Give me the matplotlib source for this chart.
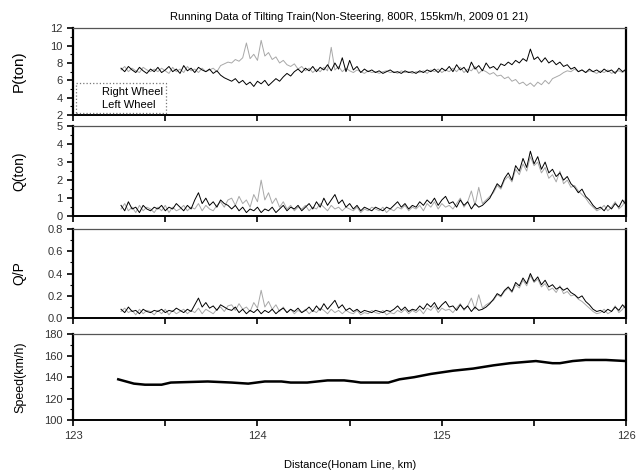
import matplotlib.pyplot as plt
import numpy as np
from matplotlib.ticker import MultipleLocator, FuncFormatter

plt.rcParams['font.family'] = ['Liberation Sans', 'DejaVu Sans']

# distance samples (km) for the wheel-load records
dist = np.round(np.arange(123.26, 126.001, 0.02), 3)

p_right = [
    7.4, 7.0, 7.6, 7.2, 6.9, 7.5, 7.1, 6.8, 7.3, 7.0,
    7.5, 6.9, 7.2, 7.6, 7.0, 7.3, 6.8, 7.7, 7.1, 7.4,
    6.9, 7.5, 7.2, 7.0, 7.3, 6.8, 7.1, 6.6, 6.3, 6.1,
    5.9, 6.2, 5.7, 6.0, 5.5, 5.8, 5.3, 5.9, 5.6, 6.0,
    5.4, 5.8, 6.2, 5.9, 6.4, 6.8, 6.5, 7.0, 7.3, 6.9,
    7.4, 7.1, 7.6, 7.0, 7.5, 7.2, 7.8, 7.1, 8.0, 7.3,
    8.6, 7.0, 8.3, 7.2, 7.6, 6.9, 7.3, 7.0, 7.2, 6.9,
    7.1, 6.8, 7.0, 7.2, 6.9, 7.0, 6.8, 7.1, 6.9, 7.0,
    6.8, 7.1, 6.9, 7.2, 7.0, 7.3, 6.9, 7.4, 7.1, 7.6,
    7.0, 7.8, 7.2, 7.5, 6.9, 8.1, 7.3, 7.7, 7.1, 8.0,
    7.4, 7.6, 7.2, 7.9, 7.7, 8.1, 7.8, 8.3, 8.0, 8.5,
    8.2, 9.6, 8.4, 8.7, 8.1, 8.6, 8.0, 8.3, 7.8, 8.1,
    7.6, 7.8, 7.3, 7.5, 7.0, 7.2, 6.9, 7.3, 7.0, 7.2,
    6.9, 7.3, 7.0, 7.2, 6.8, 7.4, 7.0, 7.3,
]
p_left = [
    7.2, 7.6, 7.0, 7.4, 7.1, 6.9, 7.5, 7.2, 7.0, 7.3,
    7.0, 7.4, 7.1, 6.8, 7.5, 7.0, 7.3, 6.9, 7.6, 7.1,
    7.3, 6.9, 7.4, 7.0, 7.2, 7.4, 7.0, 7.7, 7.9, 8.1,
    8.0, 8.4, 8.2, 8.6, 10.3, 8.5, 9.0, 8.3, 10.6, 8.8,
    9.2, 8.4, 8.7, 8.0, 8.3, 7.8, 7.6, 7.9, 7.3, 7.6,
    7.1, 7.4, 6.9, 7.3, 7.0, 7.5, 7.1, 9.8, 7.2, 7.6,
    7.0, 7.4, 7.1, 6.9, 7.2, 7.0, 6.8, 7.1, 6.9, 7.0,
    6.8, 7.0, 7.1, 6.9, 7.0, 6.8, 7.1, 6.9, 7.0, 6.8,
    7.0, 6.9, 7.1, 6.8, 7.2, 7.0, 7.3, 6.9, 7.2, 7.0,
    7.4, 7.0, 7.5, 6.9, 7.3, 7.1, 7.6, 6.8, 7.2, 7.0,
    6.7, 6.9, 6.5, 6.6, 6.2, 6.4, 5.9, 6.1, 5.6, 5.8,
    5.4, 5.7, 5.3, 5.8, 5.5, 6.0, 5.6, 6.2, 6.4, 6.6,
    6.9, 7.1, 7.0, 7.3, 7.0, 7.2, 6.9, 7.1, 7.0, 6.8,
    7.1, 6.9, 7.2, 6.8, 7.0, 7.1, 6.9, 7.2,
]
q_right = [
    0.6, 0.3, 0.8, 0.4, 0.5, 0.2, 0.6, 0.4, 0.3, 0.5,
    0.4, 0.6, 0.3, 0.5, 0.4, 0.7, 0.5, 0.3, 0.6, 0.4,
    0.9, 1.3, 0.7, 1.0, 0.6, 0.8, 0.5, 0.9, 0.7, 0.6,
    0.4, 0.6, 0.3, 0.5, 0.2, 0.4, 0.3, 0.5, 0.2, 0.4,
    0.3, 0.5, 0.2, 0.4, 0.6, 0.3, 0.5, 0.4, 0.6, 0.3,
    0.5, 0.7, 0.4, 0.8, 0.5, 1.0, 0.6, 0.9, 1.2, 0.7,
    0.9, 0.5, 0.7, 0.4, 0.6, 0.3, 0.5, 0.4, 0.3, 0.5,
    0.4, 0.3, 0.5, 0.4, 0.6, 0.8, 0.5, 0.7, 0.4, 0.6,
    0.5, 0.8, 0.6, 0.9, 0.7, 1.0, 0.6, 0.9, 1.1, 0.7,
    0.8, 0.5, 0.9, 0.6, 0.8, 0.4, 0.7, 0.5, 0.6, 0.8,
    1.0, 1.4, 1.8, 1.6, 2.1, 2.4, 2.0, 2.8, 2.5, 3.2,
    2.7, 3.6, 2.9, 3.3, 2.6, 3.0, 2.4, 2.6, 2.2, 2.4,
    2.0, 2.2, 1.8, 1.6, 1.3, 1.5, 1.1, 0.9, 0.6, 0.4,
    0.5, 0.3, 0.6, 0.4, 0.7, 0.5, 0.9, 0.6,
]
q_left = [
    0.4, 0.7, 0.3, 0.5, 0.2, 0.6, 0.3, 0.5, 0.4, 0.2,
    0.5, 0.3, 0.6, 0.2, 0.5, 0.3, 0.4, 0.6, 0.3, 0.5,
    0.4, 0.7, 0.3, 0.6, 0.4, 0.3, 0.6, 0.8, 0.5, 0.9,
    1.0, 0.6, 1.1, 0.7, 0.9, 0.5, 1.2, 0.8, 2.0, 0.9,
    1.3, 0.7, 1.0, 0.5, 0.8, 0.4, 0.6, 0.3, 0.5, 0.4,
    0.6, 0.3, 0.5, 0.4, 0.7, 0.5, 0.3, 0.6, 0.4, 0.5,
    0.3, 0.5, 0.4, 0.3, 0.5, 0.2, 0.4, 0.3, 0.5, 0.4,
    0.3, 0.5, 0.2, 0.4, 0.3, 0.5, 0.4, 0.6, 0.3, 0.5,
    0.4, 0.6, 0.3, 0.7, 0.5, 0.8, 0.4, 0.7, 0.5, 0.6,
    0.4, 0.7, 1.0, 0.5, 0.8, 1.4, 0.6, 1.6, 0.7, 0.9,
    1.1, 1.3, 1.7, 1.5, 2.0, 2.2, 1.9, 2.6, 2.3, 2.9,
    2.5, 3.3, 2.8, 3.0, 2.4, 2.7, 2.1, 2.3, 1.9, 2.5,
    1.8, 2.0, 1.6, 1.7, 1.4, 1.2, 1.0, 0.7, 0.5, 0.3,
    0.4, 0.6, 0.3, 0.5, 0.8, 0.4, 0.6, 1.0,
]
qp_right = [
    0.08, 0.05, 0.10, 0.06, 0.07, 0.04, 0.08, 0.06, 0.05, 0.07,
    0.06, 0.08, 0.05, 0.07, 0.06, 0.09, 0.07, 0.05, 0.08, 0.06,
    0.12, 0.18, 0.10, 0.14, 0.09, 0.11, 0.07, 0.12, 0.10, 0.08,
    0.07, 0.10, 0.05, 0.08, 0.04, 0.07, 0.05, 0.08, 0.04, 0.07,
    0.05, 0.08, 0.04, 0.07, 0.09, 0.05, 0.08, 0.06, 0.09, 0.05,
    0.07, 0.10, 0.06, 0.11, 0.07, 0.13, 0.08, 0.12, 0.16, 0.09,
    0.12, 0.07, 0.09, 0.06, 0.08, 0.05, 0.07, 0.06, 0.05, 0.07,
    0.06, 0.05, 0.07, 0.06, 0.08, 0.11, 0.07, 0.10, 0.06, 0.08,
    0.07, 0.11, 0.08, 0.13, 0.10, 0.14, 0.08, 0.12, 0.15, 0.10,
    0.11, 0.07, 0.12, 0.08, 0.11, 0.06, 0.10, 0.07, 0.08, 0.10,
    0.13, 0.17, 0.22, 0.20, 0.25, 0.28, 0.24, 0.32, 0.29, 0.36,
    0.31, 0.40, 0.33, 0.37, 0.30, 0.34, 0.28, 0.30, 0.26, 0.28,
    0.25, 0.27, 0.23, 0.21, 0.18, 0.20, 0.15, 0.12, 0.08, 0.06,
    0.07, 0.05, 0.08, 0.06, 0.10, 0.07, 0.12, 0.08,
]
qp_left = [
    0.06, 0.09, 0.05, 0.07, 0.03, 0.08, 0.04, 0.07, 0.06, 0.03,
    0.07, 0.04, 0.08, 0.03, 0.07, 0.04, 0.06, 0.08, 0.04, 0.07,
    0.05, 0.09, 0.04, 0.08, 0.06, 0.04, 0.08, 0.10, 0.06, 0.11,
    0.12, 0.07, 0.13, 0.08, 0.10, 0.06, 0.14, 0.09, 0.25, 0.10,
    0.15, 0.08, 0.12, 0.06, 0.10, 0.05, 0.08, 0.04, 0.07, 0.05,
    0.08, 0.04, 0.07, 0.05, 0.09, 0.07, 0.04, 0.08, 0.05, 0.07,
    0.04, 0.07, 0.05, 0.04, 0.07, 0.03, 0.05, 0.04, 0.07, 0.05,
    0.04, 0.07, 0.03, 0.05, 0.04, 0.07, 0.05, 0.08, 0.04, 0.07,
    0.05, 0.08, 0.04, 0.09, 0.07, 0.11, 0.05, 0.09, 0.07, 0.08,
    0.05, 0.09, 0.13, 0.07, 0.11, 0.18, 0.08, 0.21, 0.09, 0.12,
    0.14, 0.16, 0.21, 0.19, 0.24, 0.27, 0.23, 0.30, 0.27, 0.34,
    0.29, 0.38, 0.32, 0.35, 0.28, 0.31, 0.25, 0.27, 0.23, 0.29,
    0.22, 0.24, 0.20, 0.21, 0.17, 0.15, 0.12, 0.09, 0.06, 0.04,
    0.05, 0.08, 0.04, 0.06, 0.11, 0.05, 0.08, 0.13,
]

speed_dist = [123.245, 123.33, 123.39, 123.48, 123.53, 123.73, 123.86, 123.95,
              124.04, 124.13, 124.18, 124.27, 124.38, 124.47, 124.52, 124.56,
              124.71, 124.77, 124.85, 124.94, 125.06, 125.17, 125.28, 125.37,
              125.44, 125.51, 125.6, 125.64, 125.71, 125.78, 125.89, 126.0]
speed = [138, 134, 133, 133, 135, 136, 135, 134,
         136, 136, 135, 135, 137, 137, 136, 135,
         135, 138, 140, 143, 146, 148, 151, 153,
         154, 155, 153, 153, 155, 156, 156, 155]

fig = plt.figure(figsize=(6.41, 4.70), dpi=100)
boxes = [
    [0.114, 0.755, 0.863, 0.185],
    [0.114, 0.540, 0.863, 0.192],
    [0.114, 0.323, 0.863, 0.190],
    [0.114, 0.106, 0.863, 0.183],
]
axes = [fig.add_axes(b) for b in boxes]
ax_p, ax_q, ax_qp, ax_v = axes

grey = '#a8a8a8'
ax_p.plot(dist, p_left, color=grey, lw=0.7, label='Left Wheel')
ax_p.plot(dist, p_right, color='black', lw=0.7, label='Right Wheel')
ax_q.plot(dist, q_left, color=grey, lw=0.7)
ax_q.plot(dist, q_right, color='black', lw=0.7)
ax_qp.plot(dist, qp_left, color=grey, lw=0.7)
ax_qp.plot(dist, qp_right, color='black', lw=0.7)
ax_v.plot(speed_dist, speed, color='black', lw=1.8)

ax_p.set_ylim(2, 12)
ax_p.yaxis.set_major_locator(MultipleLocator(2))
ax_p.yaxis.set_minor_locator(MultipleLocator(1))
ax_q.set_ylim(0, 5)
ax_q.yaxis.set_major_locator(MultipleLocator(1))
ax_q.yaxis.set_minor_locator(MultipleLocator(0.5))
ax_qp.set_ylim(0, 0.8)
ax_qp.yaxis.set_major_locator(MultipleLocator(0.2))
ax_qp.yaxis.set_minor_locator(MultipleLocator(0.1))
ax_qp.yaxis.set_major_formatter(FuncFormatter(lambda v, p: '%.1f' % v))
ax_v.set_ylim(100, 180)
ax_v.yaxis.set_major_locator(MultipleLocator(20))
ax_v.yaxis.set_minor_locator(MultipleLocator(10))

ax_p.set_ylabel('P(ton)', fontsize=11)
ax_q.set_ylabel('Q(ton)', fontsize=10)
ax_qp.set_ylabel('Q/P', fontsize=10)
ax_v.set_ylabel('Speed(km/h)', fontsize=9)

for ax in axes:
    ax.set_xlim(123, 126)
    ax.xaxis.set_major_locator(MultipleLocator(0.5))
    ax.tick_params(axis='both', which='both', direction='out', labelsize=8,
                   labelcolor='#333333')
    ax.tick_params(axis='both', which='major', length=4, width=1.2)
    ax.tick_params(axis='y', which='minor', length=2, width=0.8)
    ax.yaxis.set_label_coords(-0.085, 0.5)
    for side in ['left', 'right']:
        ax.spines[side].set_linewidth(1.6)
    ax.spines['bottom'].set_linewidth(1.4)
    ax.spines['top'].set_linewidth(0.9)
    ax.spines['top'].set_color('#555555')
    if ax is not ax_v:
        ax.tick_params(axis='x', labelbottom=False)

ax_v.xaxis.set_major_formatter(
    FuncFormatter(lambda v, p: '%d' % round(v) if abs(v - round(v)) < 1e-6 else ''))
ax_v.set_xlabel('Distance(Honam Line, km)', fontsize=8, labelpad=14)

leg = ax_p.legend(handles=ax_p.get_lines()[::-1], loc='lower left',
                  bbox_to_anchor=(0.003, 0.0), borderaxespad=0.15, fontsize=8,
                  markerfirst=True, handlelength=1.6, handletextpad=0.4,
                  labelspacing=0.3, borderpad=0.3, fancybox=False, framealpha=1)
for h in leg.get_lines():
    h.set_visible(False)
leg.get_frame().set_edgecolor('#777777')
leg.get_frame().set_linestyle(':')
leg.get_frame().set_linewidth(0.9)

fig.suptitle('Running Data of Tilting Train(Non-Steering, 800R, 155km/h, 2009 01 21)',
             fontsize=8, x=0.545, y=0.975)

fig.savefig('out.png', dpi=100)
